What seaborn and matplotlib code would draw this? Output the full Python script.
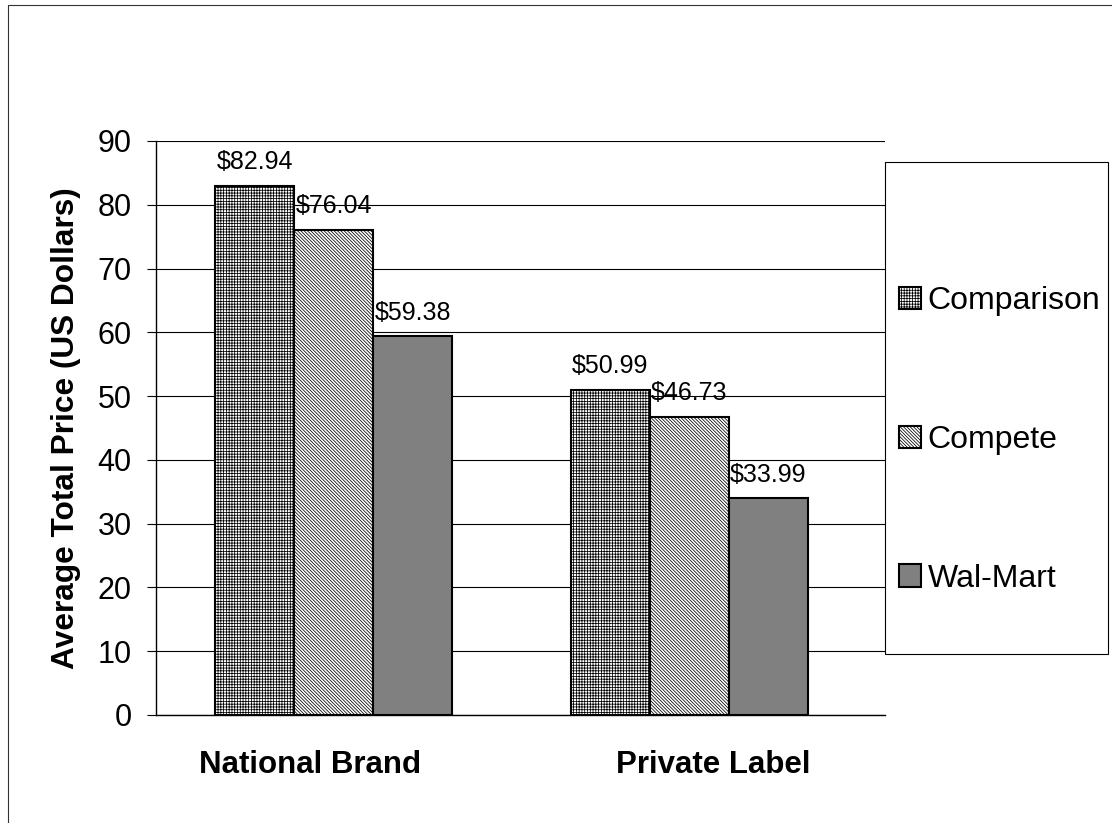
import matplotlib
matplotlib.use("Agg")
import matplotlib.pyplot as plt
from matplotlib.patches import Patch, Rectangle
from matplotlib.transforms import ScaledTranslation
import seaborn as sns
import pandas as pd

categories = ["National Brand", "Private Label"]
series = ["Comparison", "Compete", "Wal-Mart"]
comparison = [82.94, 50.99]
compete = [76.04, 46.73]
walmart = [59.38, 33.99]
yticks = [0, 10, 20, 30, 40, 50, 60, 70, 80, 90]

rows = []
for name, vals in zip(series, [comparison, compete, walmart]):
    for c, v in zip(categories, vals):
        rows.append({"Category": c, "Series": name, "Price": v})
df = pd.DataFrame(rows)

sns.set_style("white")
plt.rcParams["font.family"] = ["Liberation Sans", "DejaVu Sans"]
plt.rcParams["hatch.linewidth"] = 0.55
for k in ["text.color", "axes.labelcolor", "xtick.color", "ytick.color"]:
    plt.rcParams[k] = "black"

styles = {
    "Comparison": dict(facecolor="white", hatch="++++++"),
    "Compete": dict(facecolor="white", hatch="\\" * 10),
    "Wal-Mart": dict(facecolor="#808080", hatch=""),
}

fig = plt.figure(figsize=(11.12, 8.23), dpi=100)
ax = fig.add_axes([156 / 1112, 1 - 715 / 823, (885 - 156) / 1112, (715 - 141) / 823])

sns.barplot(data=df, x="Category", y="Price", hue="Series", order=categories,
            hue_order=series, width=0.667, palette=["white", "white", "#808080"],
            edgecolor="black", linewidth=1.5, saturation=1, legend=False, ax=ax, zorder=3)

for name, cont in zip(series, ax.containers):
    for bar in cont:
        bar.set_facecolor(styles[name]["facecolor"])
        bar.set_hatch(styles[name]["hatch"])
        bar.set_edgecolor("black")
        bar.set_linewidth(1.5)
    for bar, v in zip(cont, cont.datavalues):
        ax.annotate(f"${v:.2f}", xy=(bar.get_x() + bar.get_width() / 2, bar.get_height()),
                    xytext=(0, 12), textcoords="offset points", ha="center", va="baseline",
                    fontsize=18, zorder=5)

ax.set_ylim(0, 90)
ax.set_xlim(-0.5, 1.55)
ax.set_yticks(yticks)
ax.yaxis.grid(True, color="black", linewidth=0.8)
ax.set_axisbelow(True)
for s in ["top", "right"]:
    ax.spines[s].set_visible(False)
for s in ["left", "bottom"]:
    ax.spines[s].set_color("black")
    ax.spines[s].set_linewidth(1.0)
    ax.spines[s].set_zorder(4)
ax.tick_params(axis="y", direction="out", length=6.5, width=0.8, color="black",
               labelsize=22, pad=11, left=True)
ax.tick_params(axis="x", length=0, labelsize=22.5, pad=25)
shifts = [-24, 24]
for lab, dx in zip(ax.get_xticklabels(), shifts):
    lab.set_fontweight("bold")
    lab.set_transform(lab.get_transform() + ScaledTranslation(dx / 100, 0, fig.dpi_scale_trans))
ax.set_xlabel("")
ax.set_ylabel("Average Total Price (US Dollars)", fontsize=22.8, fontweight="bold")
ax.yaxis.set_label_coords(-0.103, 0.5)

handles = [Patch(facecolor=styles[n]["facecolor"], hatch=styles[n]["hatch"],
                 edgecolor="black", linewidth=1.5, label=n) for n in series]
fig.legend(handles=handles, loc="center left",
           bbox_to_anchor=(899 / 1112, 1 - 440 / 823), frameon=False,
           fontsize=23, handlelength=0.7, handleheight=0.7, handletextpad=0.2,
           labelspacing=3.4, borderpad=0, borderaxespad=0)

fig.add_artist(Rectangle((885 / 1112, 1 - 654 / 823), (1108 - 885) / 1112, (654 - 162) / 823,
                         transform=fig.transFigure, fill=False, edgecolor="black", linewidth=0.8))
fig.add_artist(Rectangle((8 / 1112, -0.1), 1.2, 1.1 - 5 / 823,
                         transform=fig.transFigure, fill=False, edgecolor="#333333", linewidth=0.8))

fig.savefig("out.png", dpi=100)
